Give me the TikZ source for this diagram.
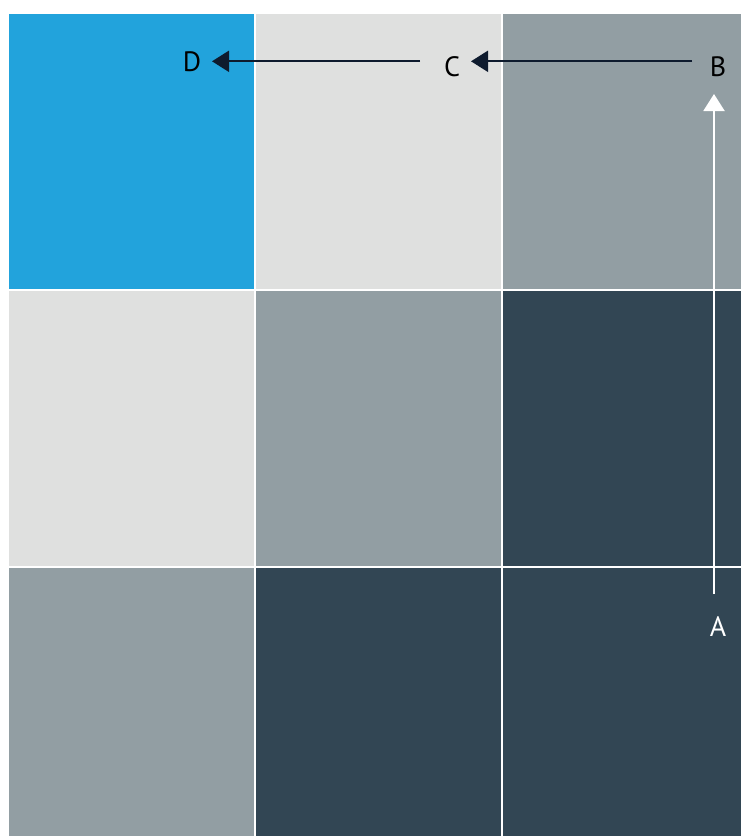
\documentclass[tikz,border=0pt]{standalone}
\usepackage{fontspec}
\setmainfont{PT Sans}
\usetikzlibrary{arrows.meta}
\definecolor{cblue}{HTML}{22A3DC}
\definecolor{clight}{HTML}{DFE0DF}
\definecolor{cmid}{HTML}{929EA3}
\definecolor{cdark}{HTML}{324654}
\definecolor{cnavy}{HTML}{0E1B2E}
\begin{document}
\begin{tikzpicture}[x=1pt,y=-1pt,
  lbl/.style={inner sep=0pt,font=\fontsize{28}{30}\selectfont},
  arr/.style={line width=2pt,-{Triangle[length=17pt,width=21pt]}}]
\useasboundingbox (0,0) rectangle (741,836);
\fill[white] (0,0) rectangle (741,836);
% row 1
\fill[cblue]  (8.5,13.5) rectangle (254,289);
\fill[clight] (256,13.5) rectangle (501,289);
\fill[cmid]   (502.5,13.5) rectangle (741,289);
% row 2
\fill[clight] (8.5,290.5) rectangle (254,566);
\fill[cmid]   (256,290.5) rectangle (501,566);
\fill[cdark]  (502.5,290.5) rectangle (741,566);
% row 3
\fill[cmid]   (8.5,567.5) rectangle (254,836);
\fill[cdark]  (256,567.5) rectangle (501,836);
\fill[cdark]  (502.5,567.5) rectangle (741,836);
% labels
\node[lbl,text=white] (A) at (718,627) {A};
\node[lbl,text=black] (B) at (718,67) {B};
\node[lbl,text=black] (C) at (452,67) {C};
\node[lbl,text=black] (D) at (192,62) {D};
% connector end points
\coordinate (a1) at (714,594);
\coordinate (b1) at (714,94);
\coordinate (b2) at (692,61.3);
\coordinate (c1) at (471,61.3);
\coordinate (c2) at (420,61.3);
\coordinate (d1) at (212,61.3);
\draw[arr,white] (a1) -- (b1);
\draw[arr,cnavy] (b2) -- (c1);
\draw[arr,cnavy] (c2) -- (d1);
\end{tikzpicture}
\end{document}
